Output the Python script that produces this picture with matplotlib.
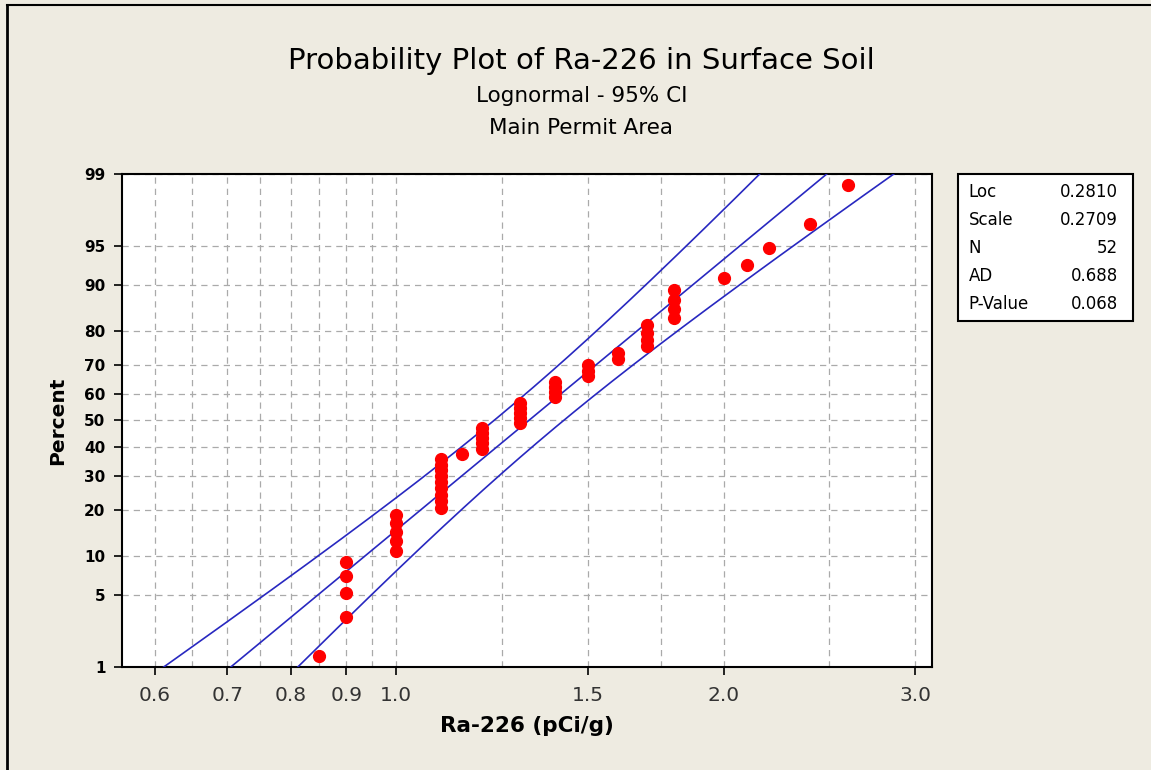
import numpy as np
import matplotlib
matplotlib.use("Agg")
import matplotlib.pyplot as plt
from matplotlib.lines import Line2D
from matplotlib.patches import Rectangle
from matplotlib.ticker import NullFormatter
from statistics import NormalDist

# data
ra226 = [0.85,
         0.9, 0.9, 0.9, 0.9,
         1.0, 1.0, 1.0, 1.0, 1.0,
         1.1, 1.1, 1.1, 1.1, 1.1, 1.1, 1.1, 1.1, 1.1,
         1.15,
         1.2, 1.2, 1.2, 1.2, 1.2,
         1.3, 1.3, 1.3, 1.3, 1.3,
         1.4, 1.4, 1.4, 1.4,
         1.5, 1.5, 1.5,
         1.6, 1.6,
         1.7, 1.7, 1.7, 1.7,
         1.8, 1.8, 1.8, 1.8,
         2.0, 2.1, 2.2, 2.4, 2.6]
percent = [1.3,
           3.2, 5.2, 7.1, 9.0,
           10.9, 12.8, 14.7, 16.6, 18.5,
           20.4, 22.3, 24.2, 26.1, 28.1, 30.0, 31.9, 33.8, 35.7,
           37.6,
           39.5, 41.4, 43.3, 45.2, 47.1,
           49.0, 51.0, 52.9, 54.8, 56.7,
           58.6, 60.5, 62.4, 64.3,
           66.2, 68.1, 70.0,
           71.9, 73.9,
           75.8, 77.7, 79.6, 81.5,
           83.4, 85.3, 87.2, 89.1,
           91.0, 92.9, 94.8, 96.8, 98.7]

loc = 0.2810
scale = 0.2709
n = 52
stat_names = ["Loc", "Scale", "N", "AD", "P-Value"]
stat_values = ["0.2810", "0.2709", "52", "0.688", "0.068"]

x_ticks = [0.6, 0.7, 0.8, 0.9, 1.0, 1.5, 2.0, 3.0]
x_labels = ["0.6", "0.7", "0.8", "0.9", "1.0", "1.5", "2.0", "3.0"]
x_minor = [0.65, 0.75, 0.85, 0.95, 1.25, 1.75, 2.5]
y_ticks = [1, 5, 10, 20, 30, 40, 50, 60, 70, 80, 90, 95, 99]

nd = NormalDist()
_ppf = np.vectorize(nd.inv_cdf, otypes=[float])
_cdf = np.vectorize(nd.cdf, otypes=[float])


def fwd(p):
    p = np.clip(np.asarray(p, dtype=float), 1e-9, 100 - 1e-9)
    return _ppf(p / 100.0)


def inv(z):
    return _cdf(np.asarray(z, dtype=float)) * 100.0


bg = "#eeebe1"
fig = plt.figure(figsize=(11.51, 7.70), dpi=100, facecolor=bg)
ax = fig.add_axes([0.106, 0.134, 0.704, 0.640])
ax.set_facecolor("white")

ax.set_xscale("log")
ax.set_yscale("function", functions=(fwd, inv))

# fitted line and 95% CI
z = np.linspace(-2.7, 2.7, 300)
pz = inv(z)
se = scale * np.sqrt(1.0 / n + z ** 2 / (2.0 * n))
mid = loc + scale * z
for off in (-1.96, 0.0, 1.96):
    ax.plot(np.exp(mid + off * se), pz, color="#2828c0", lw=1.2, zorder=3)

ax.plot(ra226, percent, "o", color="#ff0000", ms=8.5, mec="#ff0000", zorder=4)

ax.set_xlim(0.56, 3.11)
ax.set_ylim(1, 99)

ax.set_xticks(x_ticks, x_labels)
ax.set_xticks(x_minor, minor=True)
ax.xaxis.set_minor_formatter(NullFormatter())
ax.set_yticks(y_ticks, [str(v) for v in y_ticks])
ax.set_yticks([], minor=True)
ax.tick_params(axis="x", which="major", direction="out", length=6, width=1.2,
               labelsize=14.5, colors="black", labelcolor="#333333", pad=8)
ax.tick_params(axis="x", which="minor", length=0)
ax.tick_params(axis="y", which="major", direction="out", length=6, width=1.2,
               labelsize=11, pad=6)
for lab in ax.get_yticklabels():
    lab.set_fontweight("bold")

ax.grid(True, which="both", axis="x", color="#aaaaaa", lw=0.9, ls=(0, (5, 4)))
ax.grid(True, which="major", axis="y", color="#aaaaaa", lw=0.9, ls=(0, (5, 4)))
ax.set_axisbelow(True)
for s in ax.spines.values():
    s.set_linewidth(1.5)
    s.set_color("black")

ax.set_xlabel("Ra-226 (pCi/g)", fontsize=15.5, fontweight="bold", labelpad=8)
ax.set_ylabel("Percent", fontsize=14.5, fontweight="bold", labelpad=12)

fig.text(0.505, 0.921, "Probability Plot of Ra-226 in Surface Soil",
         ha="center", va="center", fontsize=21)
fig.text(0.505, 0.875, "Lognormal - 95% CI", ha="center", va="center", fontsize=15.5)
fig.text(0.505, 0.834, "Main Permit Area", ha="center", va="center", fontsize=15.5)

# statistics box
fig.add_artist(Rectangle((0.8323, 0.583), 0.1521, 0.191, transform=fig.transFigure,
                         facecolor="white", edgecolor="black", lw=1.5))
for i, (nm, val) in enumerate(zip(stat_names, stat_values)):
    yy = 0.751 - i * 0.0365
    fig.text(0.8415, yy, nm, ha="left", va="center", fontsize=12)
    fig.text(0.9715, yy, val, ha="right", va="center", fontsize=12)

# window frame on left and top
fig.add_artist(Line2D([0.006, 0.006], [0.0, 0.993], transform=fig.transFigure,
                      color="black", lw=2))
fig.add_artist(Line2D([0.006, 1.0], [0.993, 0.993], transform=fig.transFigure,
                      color="black", lw=1.5))

fig.savefig("out.png", dpi=100, facecolor=bg)
